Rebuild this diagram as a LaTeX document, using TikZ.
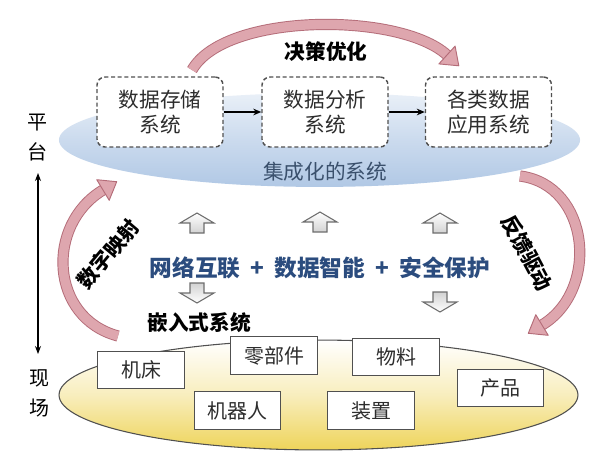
\documentclass[tikz,border=0pt]{standalone}
\usepackage{fontspec}
\setmainfont{Noto Sans CJK SC}
\usetikzlibrary{arrows.meta}
\definecolor{pinkfill}{RGB}{222,166,174}
\definecolor{pinkedge}{RGB}{180,108,120}
\definecolor{boxedge}{RGB}{80,80,80}
\definecolor{boxtext}{RGB}{45,45,45}
\definecolor{maintext}{RGB}{43,76,126}
\definecolor{systext}{RGB}{58,80,108}
\definecolor{ellblue}{RGB}{168,194,226}
\definecolor{ellyellow}{RGB}{238,212,90}
\definecolor{arrowedge}{RGB}{110,110,110}
\tikzset{
  dashbox/.style={draw=boxedge, line width=1.1pt, dash pattern=on 3pt off 2pt,
    rounded corners=6pt, fill=white, text=boxtext, align=center,
    minimum width=94.5pt, minimum height=52.5pt, inner sep=0pt,
    font=\fontsize{15.5pt}{18.5pt}\selectfont},
  fieldbox/.style={draw=boxedge, line width=0.9pt, fill=white, text=boxtext,
    minimum width=65pt, minimum height=28pt, inner sep=0pt,
    font=\fontsize{15pt}{18pt}\selectfont},
  pinkband/.style={draw=pinkedge, line width=0.7pt, double=pinkfill, double distance=7pt},
  pinkhead/.style={draw=pinkedge, line width=0.7pt, fill=pinkfill, line join=round},
  boldlabel/.style={font=\fontsize{15.5pt}{18pt}\selectfont\bfseries, text=black, inner sep=0pt},
  sidelabel/.style={font=\fontsize{15pt}{22.5pt}\selectfont, text=black, align=center, inner sep=0pt},
  hollowup/.pic={\draw[draw=arrowedge, line width=0.8pt, top color=white, bottom color=gray!35]
    (0,-10) -- (17,0) -- (7,0) -- (7,10) -- (-7,10) -- (-7,0) -- (-17,0) -- cycle;},
  hollowdown/.pic={\draw[draw=arrowedge, line width=0.8pt, top color=gray!35, bottom color=white]
    (0,10) -- (17,0) -- (7,0) -- (7,-10) -- (-7,-10) -- (-7,0) -- (-17,0) -- cycle;}
}
\begin{document}
\begin{tikzpicture}[x=0.75pt,y=-0.75pt]
\useasboundingbox (0,0) rectangle (600,465);
\fill[white] (0,0) rectangle (600,465);

% platform ellipse
\shade[top color=ellblue!25, bottom color=ellblue!90, middle color=ellblue!60]
  (319.5,140) ellipse [x radius=195.4pt, y radius=35.2pt];
\node[font=\fontsize{15.5pt}{18pt}\selectfont, text=systext, inner sep=0pt] (integ) at (325,172) {集成化的系统};

% field ellipse
\draw[draw=boxedge, line width=0.8pt, top color=white, bottom color=ellyellow, middle color=ellyellow!40]
  (318.5,395) ellipse [x radius=194.6pt, y radius=41.2pt];

% top curved arrow
\draw[pinkband] (192,70) .. controls (225,12) and (400,12) .. (447,55);
\draw[pinkhead] (438.9,63.9) -- (458.8,65.8) -- (455.1,46.1) -- cycle;
\node[boldlabel] (decide) at (326,52) {决策优化};

% left curved arrow
\draw[pinkband] (118,336) .. controls (50,318) and (45,225) .. (103,190);
\draw[pinkhead] (109.2,200.3) -- (116.7,181.7) -- (96.8,179.7) -- cycle;
\node[boldlabel, rotate=50] (mapping) at (108,254) {数字映射};

% right curved arrow
\draw[pinkband] (520,176) .. controls (590,185) and (600,290) .. (542,325);
\draw[pinkhead] (535.8,314.7) -- (528.3,333.3) -- (548.2,335.3) -- cycle;
\node[boldlabel, rotate=-62] (feedback) at (527,253) {反馈驱动};

% platform boxes
\node[dashbox] (b1) at (160,112) {数据存储\\系统};
\node[dashbox] (b2) at (325,112) {数据分析\\系统};
\node[dashbox] (b3) at (488.5,112) {各类数据\\应用系统};
\draw[-{Stealth[length=6pt,width=5pt]}, line width=0.9pt] (b1) -- (b2);
\draw[-{Stealth[length=6pt,width=5pt]}, line width=0.9pt] (b2) -- (b3);

% side labels and vertical arrow
\node[sidelabel] (platform) at (37,138) {平\\台};
\node[sidelabel] (field) at (39,393) {现\\场};
\coordinate (vtop) at (38,173);
\coordinate (vbot) at (38,354);
\draw[{Stealth[length=6pt,width=4.5pt]}-{Stealth[length=6pt,width=4.5pt]}, line width=0.8pt] (vtop) -- (vbot);

% hollow arrows
\pic (up1) at (197,223) {hollowup};
\pic (up2) at (320,222) {hollowup};
\pic (up3) at (440,223) {hollowup};
\pic (dn1) at (197,293) {hollowdown};
\pic (dn2) at (440,302) {hollowdown};

% main text
\node[font=\fontsize{17pt}{20pt}\selectfont\bfseries, text=maintext, inner sep=0pt] (tech) at (320,268)
  {网络互联\hspace{0.45em}+\hspace{0.45em}数据智能\hspace{0.45em}+\hspace{0.45em}安全保护};
\node[boldlabel] (embed) at (199,323) {嵌入式系统};

% field boxes
\node[fieldbox] (f1) at (141,370) {机床};
\node[fieldbox] (f2) at (274,355.5) {零部件};
\node[fieldbox] (f3) at (396,357) {物料};
\node[fieldbox] (f4) at (500.5,388) {产品};
\node[fieldbox] (f5) at (237.5,410.5) {机器人};
\node[fieldbox] (f6) at (371,410.5) {装置};
\end{tikzpicture}
\end{document}
